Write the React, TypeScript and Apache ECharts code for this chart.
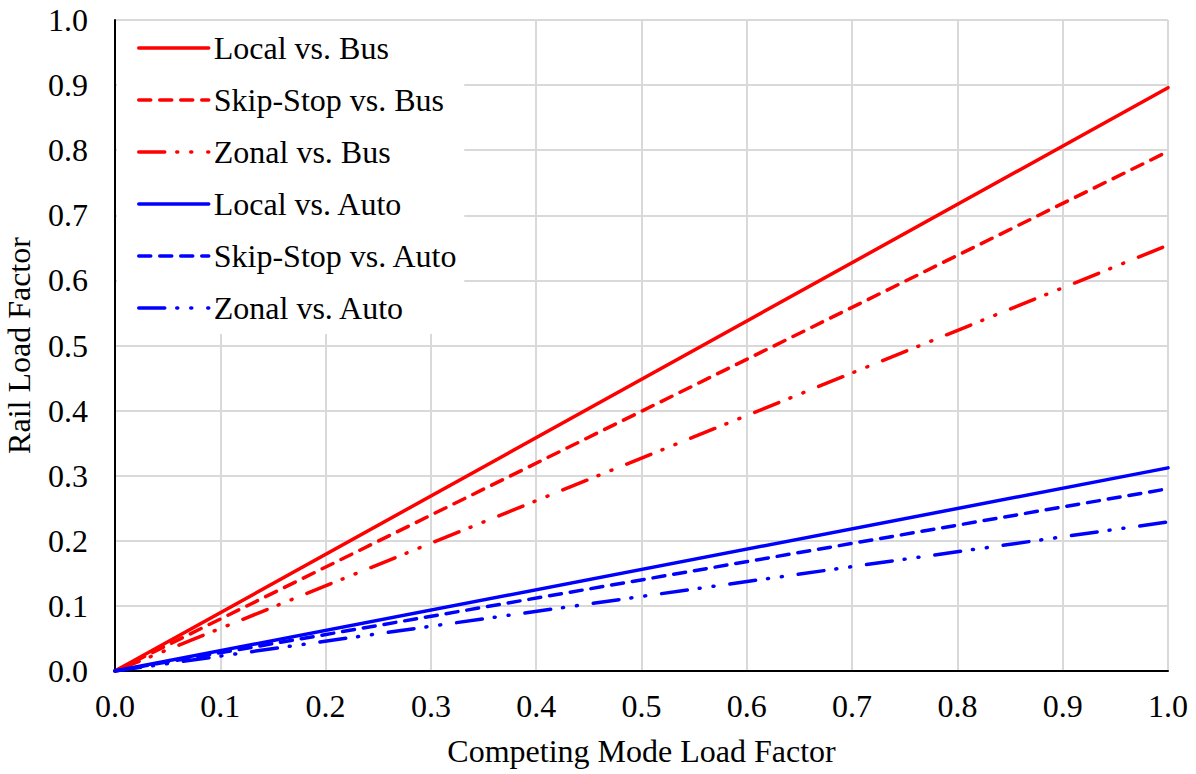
import React, { useEffect, useRef } from "react";
import * as echarts from "echarts";

const seriesNames = [
  "Local vs. Bus",
  "Skip-Stop vs. Bus",
  "Zonal vs. Bus",
  "Local vs. Auto",
  "Skip-Stop vs. Auto",
  "Zonal vs. Auto",
];
const xValues = [0, 1.0];
const localBus = [0, 0.896];
const skipBus = [0, 0.798];
const zonalBus = [0, 0.654];
const localAuto = [0, 0.312];
const skipAuto = [0, 0.28];
const zonalAuto = [0, 0.229];
const tickLabels = ["0.0", "0.1", "0.2", "0.3", "0.4", "0.5", "0.6", "0.7", "0.8", "0.9", "1.0"];

const RED = "#FF0000";
const BLUE = "#0000FF";
const FONT = "Liberation Serif";
const FS = 32;

const solid: any = "solid";
const dashed: any = [12, 9];
const dashDotDot: any = [26, 12, 1, 13, 1, 16];

export default function App() {
  const ref = useRef<HTMLDivElement>(null);
  useEffect(() => {
    if (!ref.current) return;
    const chart = echarts.init(ref.current, null, { renderer: "svg" });
    const values = [localBus, skipBus, zonalBus, localAuto, skipAuto, zonalAuto];
    const colors = [RED, RED, RED, BLUE, BLUE, BLUE];
    const types = [solid, dashed, dashDotDot, solid, dashed, dashDotDot];
    const fmt = (v: number) => tickLabels[Math.round(v * 10)] ?? v.toFixed(1);
    chart.setOption({
      animation: false,
      backgroundColor: "#ffffff",
      textStyle: { fontFamily: FONT },
      grid: {
        left: 115,
        right: 28,
        top: 20,
        bottom: 103,
        containLabel: false,
        outerBoundsMode: "none",
      },
      legend: {
        left: 117,
        top: 21,
        orient: "vertical",
        backgroundColor: "#ffffff",
        padding: [9, 6, 8, 20],
        itemWidth: 70,
        itemHeight: 14,
        itemGap: 16,
        itemStyle: { opacity: 0 },
        lineStyle: { width: 3.5 },
        textStyle: { fontFamily: FONT, fontSize: FS, color: "#000", lineHeight: 36 },
        data: seriesNames.map((n) => ({ name: n })),
      },
      xAxis: {
        type: "value",
        min: 0,
        max: 1,
        interval: 0.1,
        name: "Competing Mode Load Factor",
        nameLocation: "middle",
        nameGap: 64,
        nameTextStyle: { fontFamily: FONT, fontSize: FS, color: "#000" },
        axisLine: { show: true, onZero: false, lineStyle: { color: "#000", width: 2 } },
        axisTick: { show: false },
        axisLabel: { fontFamily: FONT, fontSize: FS, color: "#000", margin: 19, formatter: fmt },
        splitLine: { show: true, lineStyle: { color: "#d9d9d9", width: 2 } },
      },
      yAxis: {
        type: "value",
        min: 0,
        max: 1,
        interval: 0.1,
        name: "Rail Load Factor",
        nameLocation: "middle",
        nameGap: 80,
        nameTextStyle: { fontFamily: FONT, fontSize: FS, color: "#000" },
        axisLine: { show: true, onZero: false, lineStyle: { color: "#000", width: 2 } },
        axisTick: { show: false },
        axisLabel: { fontFamily: FONT, fontSize: FS, color: "#000", margin: 27, formatter: fmt },
        splitLine: { show: true, lineStyle: { color: "#d9d9d9", width: 2 } },
      },
      series: seriesNames.map((name, i) => ({
        name,
        type: "line",
        symbol: "none",
        data: xValues.map((x, j) => [x, values[i][j]]),
        lineStyle: { color: colors[i], width: 3.5, type: types[i], cap: "round" },
        itemStyle: { color: colors[i] },
        z: 2,
      })),
    });
    return () => chart.dispose();
  }, []);
  return (
    <div
      ref={ref}
      style={{ position: "absolute", left: 0, top: 0, width: 1196, height: 774 }}
    />
  );
}
